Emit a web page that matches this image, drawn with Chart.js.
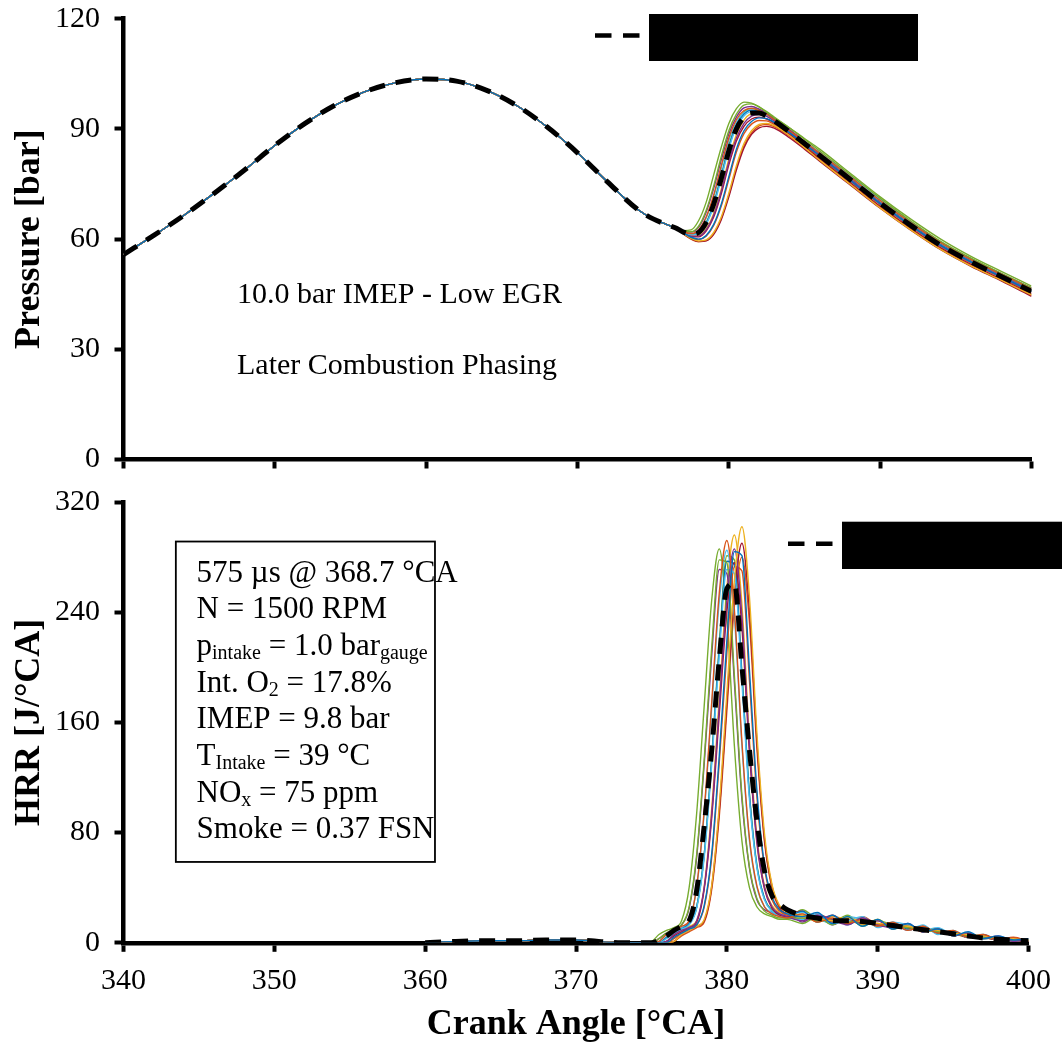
<!DOCTYPE html>
<html>
<head>
<meta charset="utf-8">
<script src="https://cdn.jsdelivr.net/npm/chart.js@4"></script>
<style>
body { margin: 0; background: #fff; }
#wrap { position: relative; width: 1062px; height: 1049px; }
canvas { position: absolute; left: 0; }
#graficoPressao { top: 0; }
#graficoHrr { top: 480px; }
</style>
</head>
<body>
<div id="wrap">
<canvas id="graficoPressao" width="1062" height="480"></canvas>
<canvas id="graficoHrr" width="1062" height="569"></canvas>
</div>
<script>
// Crank angle grids [°CA]
const motoredCA = [340, 342, 344, 346, 348, 350, 352, 354, 356, 358, 360, 362, 364, 366, 368, 370, 372, 374, 375, 376];
const pressureCA = [376.5, 377, 377.5, 378, 378.5, 379, 379.5, 380, 380.5, 381, 381.5, 382, 382.5, 383, 384, 385, 386, 388, 390, 392, 394, 396, 398, 400];
const hrrEarlyCA = [360, 362, 364, 366, 368, 370, 371, 372, 373, 374];
const hrrCA = [375, 375.5, 376, 376.5, 377, 377.5, 378, 378.5, 379, 379.5, 380, 380.5, 381, 381.5, 382, 382.5, 383, 383.5, 384, 385, 386, 387, 388, 389, 390, 391, 392, 393, 394, 395, 396, 397, 398, 399, 400];

// Ticks
const xTicks = [340, 350, 360, 370, 380, 390, 400];
const pressureTicks = [0, 30, 60, 90, 120];
const hrrTicks = [0, 80, 160, 240, 320];

// Pressure [bar] - shared compression part, then each cycle
const motoredPressure = [55.8, 61, 66.5, 72.5, 78.8, 85.5, 91.5, 96.5, 100.2, 102.6, 103.6, 103, 100.5, 96.3, 90.5, 83.5, 75.5, 68, 65.5, 63.8];
const pressureMean = [63, 61.9, 61.3, 61.8, 64.5, 69.5, 76.5, 84, 90, 93.2, 94.3, 94.3, 93.5, 92.2, 89.2, 86, 82.8, 76.3, 69.8, 63.8, 58.3, 53.8, 49.8, 45.8];
const pressureCycle1 = [63, 61.6, 60.5, 60, 61, 64, 69.5, 77, 84.5, 89.5, 92, 93, 92.8, 91.8, 89, 85.8, 82.6, 76, 69.6, 63.7, 58.2, 53.7, 49.7, 45.7];
const pressureCycle2 = [63, 62, 61.5, 62.5, 66, 72, 80, 87.5, 92.5, 95, 95.6, 95, 94, 92.5, 89.5, 86.5, 83.4, 77, 70.5, 64.5, 59, 54.4, 50.4, 46.4];
const pressureCycle3 = [63, 61.5, 60.2, 59.5, 59.8, 61.8, 66, 72.5, 80, 86, 89.5, 91.2, 91.5, 90.9, 88.2, 84.9, 81.5, 75, 68.5, 62.6, 57.2, 52.7, 48.8, 44.8];
const pressureCycle4 = [63, 61.7, 60.8, 60.8, 62.5, 66.5, 73, 81, 87.5, 91.5, 93.5, 94, 93.4, 92.2, 89.2, 86, 82.8, 76.3, 69.8, 63.8, 58.3, 53.8, 49.8, 45.8];
const pressureCycle5 = [63, 62.1, 62, 63.5, 67.8, 74.5, 82.5, 89.5, 94, 96.5, 96.8, 96, 94.7, 93.2, 90.3, 87.2, 84, 77.6, 71.1, 65, 59.4, 54.8, 50.7, 46.7];
const pressureCycle6 = [63, 61.8, 61.2, 61.5, 64, 69, 76.5, 84.5, 90.5, 93.5, 94.7, 94.5, 93.6, 92.2, 89.2, 86, 82.8, 76.3, 69.8, 63.8, 58.3, 53.8, 49.8, 45.8];
const pressureCycle7 = [63, 61.7, 60.7, 60.6, 62.2, 66, 72.3, 80.2, 86.7, 90.7, 92.7, 93.2, 92.7, 91.6, 88.5, 85.2, 81.9, 75.4, 68.9, 63, 57.6, 53.1, 49.1, 45.1];
const pressureCycle8 = [63, 61.9, 61.3, 61.7, 64.3, 69.5, 77, 85, 91, 94, 95.1, 94.9, 94, 92.5, 89.4, 86.2, 83, 76.5, 70, 64, 58.5, 54, 50, 46.1];
const pressureCycle9 = [63, 61.6, 60.4, 59.9, 60.8, 63.7, 69, 76.3, 83.7, 88.7, 91.3, 92.3, 92.2, 91.2, 88.6, 85.5, 82.3, 75.8, 69.4, 63.5, 58, 53.5, 49.5, 45.5];
const pressureCycle10 = [63, 62.3, 62.5, 65, 70, 77.5, 85, 91.5, 95.5, 97.3, 97, 96, 94.5, 93, 90.3, 87.4, 84.5, 78, 71.5, 65.5, 60, 55.3, 51.2, 47.2];
const pressureCycle11 = [63, 62, 61.4, 62.3, 65.7, 71.5, 79.3, 86.8, 91.8, 94.4, 95.1, 94.6, 93.7, 92.3, 89.3, 86.5, 83.5, 77.2, 70.8, 64.6, 59, 54.4, 50.3, 46.3];
const pressureCycle12 = [63, 61.4, 60.1, 59.3, 59.5, 61.3, 65.3, 71.5, 78.8, 84.8, 88.5, 90.3, 90.7, 90.2, 87.6, 84.5, 81.2, 74.8, 68.4, 62.5, 57.1, 52.6, 48.6, 44.4];
const pressureCycle13 = [63, 62.1, 61.9, 63.2, 67.3, 73.8, 81.6, 88.6, 93.2, 95.7, 96.1, 95.4, 94.2, 92.8, 89.8, 86.6, 83.5, 77.2, 70.8, 64.8, 59.2, 54.7, 50.6, 46.7];
const pressureCycle14 = [63, 61.7, 60.8, 60.9, 62.8, 67, 73.6, 81.8, 88.4, 92.4, 94.3, 94.7, 94, 92.8, 89.8, 86.6, 83.4, 77, 70.5, 64.5, 58.9, 54.3, 50.3, 46.2];
const pressureCycle15 = [63, 61.9, 61.3, 61.8, 64.5, 69.8, 77.4, 85.5, 91.5, 94.6, 95.6, 95.3, 94.3, 92.8, 89.6, 86.3, 83, 76.5, 70, 64, 58.5, 54, 50, 46];
const pressureCycle16 = [63, 61.4, 60, 59.3, 59.6, 61.5, 65.6, 72, 79.4, 85.4, 88.9, 90.8, 91.2, 90.6, 88, 84.8, 81.5, 75, 68.6, 62.7, 57.3, 52.8, 48.9, 44.7];

// HRR [J/°CA] - shared early part, then each cycle
const hrrEarly = [0, 1, 1.5, 1.5, 2, 2, 1.5, 0.5, 0, 0];
const hrrMean = [0, 2, 5, 9, 12, 16, 38, 85, 140, 206, 257, 261, 201, 140, 88, 52, 34, 28, 24, 20, 18, 16, 16, 15.5, 14, 12.5, 11, 9.5, 8, 6.5, 5, 3.5, 2.5, 2, 1.5];
const hrrCycle1 = [0, 0, 0, 4, 7, 10, 13, 27, 65, 136, 219, 284, 281, 198, 110, 56, 33, 24, 21, 19, 22, 14, 19, 12, 17, 10, 14, 8, 10, 5, 8, 3, 5, 2, 3];
const hrrCycle2 = [0, 1, 6, 9, 12, 16, 41, 96, 175, 254, 292, 242, 146, 76, 41, 26, 21, 19, 18, 21, 15, 18, 14, 17, 12, 15, 9, 12, 7, 9, 4, 6, 2, 4, 1];
const hrrCycle3 = [0, 0, 0, 1, 6, 9, 12, 17, 42, 100, 181, 263, 302, 251, 151, 79, 42, 27, 22, 20, 18, 16, 18, 15, 14, 13, 12, 10, 9, 7, 6, 5, 3, 3, 2];
const hrrCycle4 = [0, 0, 1, 6, 9, 11, 16, 40, 94, 172, 249, 286, 237, 143, 74, 40, 26, 21, 19, 16, 20, 17, 13, 18, 13, 11, 14, 8, 10, 5, 7, 3, 5, 1, 3];
const hrrCycle5 = [0, 3, 7, 10, 13, 26, 64, 133, 215, 278, 276, 194, 107, 55, 32, 23, 20, 18, 18, 18, 16, 17, 15, 16, 13, 12, 11, 9, 8, 6, 5, 4, 3, 2, 2];
const hrrCycle6 = [0, 0, 3, 7, 10, 13, 25, 62, 130, 209, 271, 268, 189, 104, 54, 31, 23, 19, 18, 17, 21, 14, 16, 19, 11, 15, 9, 13, 6, 9, 4, 5, 2, 3, 1];
const hrrCycle7 = [0, 0, 1, 5, 8, 11, 15, 39, 91, 166, 240, 276, 229, 138, 72, 39, 25, 20, 19, 17, 18, 15, 17, 15, 13, 14, 11, 9, 9, 6, 6, 4, 2, 2, 1];
const hrrCycle8 = [0, 0, 4, 8, 10, 14, 26, 64, 133, 214, 277, 275, 194, 107, 55, 32, 23, 20, 19, 23, 15, 20, 13, 18, 13, 14, 10, 11, 7, 8, 4, 6, 2, 3, 1];
const hrrCycle9 = [0, 0, 0, 3, 7, 10, 13, 26, 62, 131, 210, 273, 270, 190, 105, 54, 31, 23, 20, 19, 17, 17, 16, 15, 14, 13, 11, 10, 8, 7, 5, 4, 3, 2, 1];
const hrrCycle10 = [1, 6, 9, 11, 16, 40, 94, 172, 249, 286, 237, 143, 74, 40, 26, 21, 19, 17, 17, 14, 19, 13, 19, 12, 17, 10, 12, 9, 10, 5, 7, 3, 4, 1, 2];
const hrrCycle11 = [0, 1, 6, 9, 11, 16, 40, 94, 171, 248, 285, 237, 143, 74, 40, 26, 22, 20, 21, 22, 18, 14, 19, 17, 12, 15, 13, 9, 11, 6, 7, 3, 4, 1, 3];
const hrrCycle12 = [0, 0, 0, 1, 6, 9, 12, 16, 41, 96, 174, 252, 290, 241, 145, 75, 41, 26, 21, 23, 16, 20, 14, 18, 12, 14, 9, 12, 7, 8, 4, 5, 2, 3, 1];
const hrrCycle13 = [0, 3, 7, 10, 13, 25, 62, 130, 209, 271, 268, 189, 104, 54, 31, 24, 22, 20, 22, 15, 20, 13, 18, 14, 16, 10, 13, 8, 10, 5, 7, 3, 4, 2, 1];
const hrrCycle14 = [0, 0, 1, 6, 9, 12, 16, 41, 98, 178, 258, 296, 246, 148, 77, 41, 27, 22, 19, 21, 15, 19, 17, 13, 17, 11, 13, 8, 10, 6, 6, 4, 2, 3, 1];
const hrrCycle15 = [0, 0, 4, 8, 10, 14, 26, 64, 135, 217, 281, 278, 196, 108, 56, 32, 24, 21, 18, 24, 17, 15, 20, 13, 16, 13, 10, 12, 7, 8, 5, 4, 3, 1, 2];
const hrrCycle16 = [0, 0, 0, 1, 5, 8, 11, 15, 39, 92, 168, 244, 280, 232, 140, 73, 39, 25, 21, 17, 21, 16, 14, 19, 13, 12, 12, 8, 9, 7, 4, 5, 3, 2, 1];

const pressureCycles = [pressureCycle1, pressureCycle2, pressureCycle3, pressureCycle4, pressureCycle5, pressureCycle6, pressureCycle7, pressureCycle8,
    pressureCycle9, pressureCycle10, pressureCycle11, pressureCycle12, pressureCycle13, pressureCycle14, pressureCycle15, pressureCycle16];
const hrrCycles = [hrrCycle1, hrrCycle2, hrrCycle3, hrrCycle4, hrrCycle5, hrrCycle6, hrrCycle7, hrrCycle8,
    hrrCycle9, hrrCycle10, hrrCycle11, hrrCycle12, hrrCycle13, hrrCycle14, hrrCycle15, hrrCycle16];
const cycleColors = ['#0072BD', '#D95319', '#EDB120', '#7E2F8E', '#77AC30', '#4DBEEE', '#A2142F', '#0072BD',
    '#D95319', '#77AC30', '#4DBEEE', '#A2142F', '#7E2F8E', '#EDB120', '#77AC30', '#D95319'];

Chart.defaults.font.family = "'Liberation Serif', 'Times New Roman', serif";
Chart.defaults.color = '#000';

const areaLeft = 123.5;
const areaRight = 30.5;

function toPoints(angles, values) {
    return angles.map((x, i) => ({ x, y: values[i] }));
}

function serieCiclo(pontos, cor) {
    return {
        data: pontos,
        borderColor: cor,
        borderWidth: 1.4,
        pointRadius: 0,
        fill: false,
        cubicInterpolationMode: 'monotone',
        order: 1
    };
}

function serieMedia(pontos) {
    return {
        data: pontos,
        borderColor: '#000',
        borderWidth: 5,
        borderDash: [16, 11],
        pointRadius: 0,
        fill: false,
        cubicInterpolationMode: 'monotone',
        order: 0
    };
}

function eixoX(mostrarRotulos, alturaEixo) {
    return {
        type: 'linear',
        min: xTicks[0],
        max: xTicks[xTicks.length - 1],
        afterBuildTicks(scale) {
            scale.ticks = xTicks.map(value => ({ value }));
        },
        afterFit(scale) {
            scale.height = alturaEixo;
        },
        ticks: {
            display: mostrarRotulos,
            color: '#000',
            font: { size: 30 },
            padding: 11,
            maxRotation: 0
        },
        grid: { drawOnChartArea: false, drawTicks: true, tickLength: 9, tickWidth: 4, tickColor: '#000' },
        border: { display: true, color: '#000', width: 4.5 },
        title: {
            display: mostrarRotulos,
            text: 'Crank Angle [°CA]',
            color: '#000',
            font: { size: 36, weight: 'bold' },
            padding: { top: 0, bottom: 2.5 }
        }
    };
}

function eixoY(marcas, titulo) {
    return {
        type: 'linear',
        position: 'left',
        min: marcas[0],
        max: marcas[marcas.length - 1],
        afterBuildTicks(scale) {
            scale.ticks = marcas.map(value => ({ value }));
        },
        afterFit(scale) {
            scale.width = areaLeft;
            // o espaço de cima e de baixo vem só do padding do layout
            scale.paddingTop = 0;
            scale.paddingBottom = 0;
        },
        ticks: { color: '#000', font: { size: 30 }, padding: 14.5 },
        grid: { drawOnChartArea: false, drawTicks: true, tickLength: 9, tickWidth: 4, tickColor: '#000' },
        border: { display: true, color: '#000', width: 4.5 },
        title: {
            display: true,
            text: titulo,
            color: '#000',
            font: { size: 36, weight: 'bold' },
            padding: { top: 8.5, bottom: 0 }
        }
    };
}

function desenharLegenda(ctx, x, y, caixa) {
    ctx.save();
    ctx.strokeStyle = '#000';
    ctx.lineWidth = 4.5;
    ctx.setLineDash([16.5, 11.5]);
    ctx.beginPath();
    ctx.moveTo(x, y);
    ctx.lineTo(x + 45, y);
    ctx.stroke();
    ctx.fillStyle = '#000';
    ctx.fillRect(caixa[0], caixa[1], caixa[2], caixa[3]);
    ctx.restore();
}

const anotacoesPressao = {
    id: 'anotacoesPressao',
    afterDraw(chart) {
        const { ctx, scales } = chart;
        ctx.save();
        ctx.fillStyle = '#000';
        ctx.font = "30px 'Liberation Serif'";
        ctx.textAlign = 'left';
        ctx.textBaseline = 'alphabetic';
        const x = scales.x.getPixelForValue(347.5);
        ctx.fillText('10.0 bar IMEP - Low EGR', x, scales.y.getPixelForValue(42.7));
        ctx.fillText('Later Combustion Phasing', x, scales.y.getPixelForValue(23.3));
        ctx.restore();
        desenharLegenda(ctx, 595, 35.5, [649, 14, 269, 47]);
    }
};

const linhasCaixa = [
    [['575 µs @ 368.7 °CA']],
    [['N = 1500 RPM']],
    [['p'], ['intake', true], [' = 1.0 bar'], ['gauge', true]],
    [['Int. O'], ['2', true], [' = 17.8%']],
    [['IMEP = 9.8 bar']],
    [['T'], ['Intake', true], [' = 39 °C']],
    [['NO'], ['x', true], [' = 75 ppm']],
    [['Smoke = 0.37 FSN']]
];

const anotacoesHrr = {
    id: 'anotacoesHrr',
    afterDraw(chart) {
        const { ctx, scales } = chart;
        const esquerda = scales.x.getPixelForValue(343.47);
        const direita = scales.x.getPixelForValue(360.65);
        const topo = scales.y.getPixelForValue(291.3);
        const base = scales.y.getPixelForValue(58.7);
        ctx.save();
        ctx.fillStyle = '#fff';
        ctx.fillRect(esquerda, topo, direita - esquerda, base - topo);
        ctx.strokeStyle = '#000';
        ctx.lineWidth = 1.8;
        ctx.strokeRect(esquerda, topo, direita - esquerda, base - topo);
        ctx.fillStyle = '#000';
        ctx.textAlign = 'left';
        ctx.textBaseline = 'alphabetic';
        linhasCaixa.forEach((partes, i) => {
            let x = esquerda + 20.7;
            const y = topo + 40.2 + i * 36.67;
            partes.forEach(([texto, sub]) => {
                ctx.font = sub ? "20px 'Liberation Serif'" : "31px 'Liberation Serif'";
                ctx.fillText(texto, x, sub ? y + 4 : y);
                x += ctx.measureText(texto).width;
            });
        });
        ctx.restore();
        desenharLegenda(ctx, 788, 63.7, [842, 41.7, 220, 47.3]);
    }
};

function criarGrafico(elementoId, media, ciclos, montarPontos, angulos, marcasY, tituloY, mostrarX, alturaX, topo, plugin) {
    const datasets = [serieMedia(montarPontos(media, angulos))];
    ciclos.forEach((ciclo, i) => {
        datasets.push(serieCiclo(montarPontos(ciclo, angulos), cycleColors[i]));
    });
    return new Chart(document.getElementById(elementoId), {
        type: 'line',
        data: { datasets },
        options: {
            responsive: false,
            animation: false,
            events: [],
            layout: { padding: { top: topo, right: areaRight, left: 0, bottom: 0 } },
            plugins: { legend: { display: false }, tooltip: { enabled: false } },
            scales: { x: eixoX(mostrarX, alturaX), y: eixoY(marcasY, tituloY) }
        },
        plugins: [plugin]
    });
}

criarGrafico(
    'graficoPressao',
    pressureMean,
    pressureCycles,
    (valores, angulos) => toPoints(motoredCA, motoredPressure).concat(toPoints(angulos, valores)),
    pressureCA,
    pressureTicks,
    'Pressure [bar]',
    false,
    20.5,
    18.7,
    anotacoesPressao
);

criarGrafico(
    'graficoHrr',
    hrrMean,
    hrrCycles,
    (valores, angulos) => toPoints(hrrEarlyCA, hrrEarly).concat(toPoints(angulos, valores)),
    hrrCA,
    hrrTicks,
    'HRR [J/°CA]',
    true,
    106.2,
    22,
    anotacoesHrr
);
</script>
</body>
</html>
